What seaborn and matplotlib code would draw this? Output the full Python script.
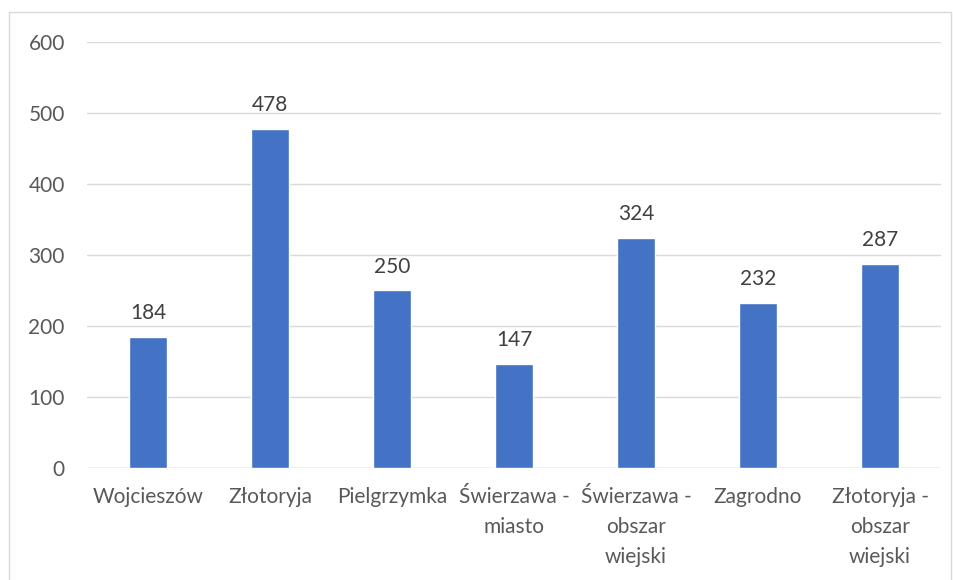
import numpy as np
import pandas as pd
import matplotlib
matplotlib.use('Agg')
import matplotlib.pyplot as plt
import seaborn as sns

# data
categories = ['Wojcieszów', 'Złotoryja', 'Pielgrzymka', 'Świerzawa -\nmiasto',
              'Świerzawa -\nobszar\nwiejski', 'Zagrodno', 'Złotoryja -\nobszar\nwiejski']
values = [184, 478, 250, 147, 324, 232, 287]
yticks = [0, 100, 200, 300, 400, 500, 600]

df = pd.DataFrame({'gmina': categories, 'value': values})

sns.set_theme(style='white')
plt.rcParams['font.family'] = ['Lato', 'DejaVu Sans']
txt = '#595959'
fs = 15

fig = plt.figure(figsize=(9.54, 5.8), dpi=100)
ax = fig.add_axes([0.0912, 0.1931, 0.8952, 0.7345])

sns.barplot(data=df, x='gmina', y='value', color='#4472C4', width=0.31,
            saturation=1, ax=ax, zorder=3)

for i, v in enumerate(values):
    ax.annotate(str(v), (i, v), xytext=(0, 10), textcoords='offset points',
                ha='center', va='bottom', fontsize=fs, color='#404040')

ax.set_ylim(0, 600)
ax.set_xlim(-0.5, len(categories) - 0.5)
ax.set_yticks(yticks)
ax.yaxis.grid(True, color='#D9D9D9', linewidth=1, zorder=0)
ax.set_xlabel('')
ax.set_ylabel('')
for s in ax.spines.values():
    s.set_visible(False)
ax.axhline(0, color='#D9D9D9', linewidth=1, zorder=2)
ax.tick_params(axis='y', length=0, pad=16, labelsize=fs, labelcolor=txt)
ax.tick_params(axis='x', length=0, pad=14, labelsize=fs, labelcolor=txt)
for lab in ax.get_xticklabels():
    lab.set_linespacing(1.6)

# outer chart border
fig.add_artist(plt.Rectangle((9 / 954, -0.01), 942 / 954, 1 - 12 / 580 + 0.01,
                             transform=fig.transFigure, fill=False,
                             edgecolor='#D9D9D9', linewidth=1))

fig.savefig('out.png', dpi=100)
